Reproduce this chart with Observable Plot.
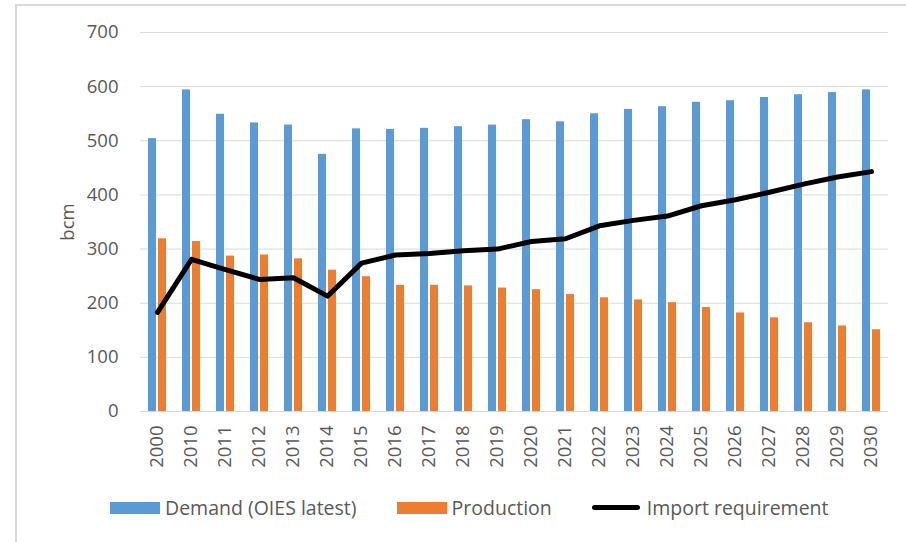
<!DOCTYPE html>
<html>
<head>
<meta charset="utf-8">
<script src="https://cdn.jsdelivr.net/npm/d3@7"></script>
<script src="https://cdn.jsdelivr.net/npm/@observablehq/plot@0.6"></script>
<style>
  html, body { margin: 0; padding: 0; background: #fff; }
  body { width: 906px; height: 542px; position: relative; overflow: hidden; font-family: "Open Sans", sans-serif; }
  #frame { position: absolute; left: 15px; top: 4px; width: 900px; height: 560px; border-left: 2px solid #d9d9d9; border-top: 2px solid #d9d9d9; box-sizing: border-box; }
  #chart { position: absolute; left: 0; top: 0; }
  #legend { position: absolute; left: 110px; top: 494px; display: flex; align-items: center; gap: 40px; font-size: 19.5px; color: #595959; }
  .item { display: flex; align-items: center; gap: 5px; }
  .sw { width: 50px; height: 12px; }
  .ln { width: 48px; height: 5px; background: #000; border-radius: 3px; margin-right: 2px; }
</style>
</head>
<body>
<div id="frame"></div>
<div id="chart"></div>
<div id="legend"></div>
<script>
const years = ["2000","2010","2011","2012","2013","2014","2015","2016","2017","2018","2019","2020","2021","2022","2023","2024","2025","2026","2027","2028","2029","2030"];
const demand = [504,594,549,533,529,475,522,521,523,526,529,539,535,550,558,563,571,574,580,585,589,594];
const production = [319,314,287,289,282,261,249,233,233,232,228,225,216,210,206,201,192,182,173,164,158,151];
const importReq = [183,281,262,244,247,213,274,289,292,297,300,314,319,343,353,361,380,391,405,420,433,443];
const yTicks = [0,100,200,300,400,500,600,700];
const seriesNames = ["Demand (OIES latest)", "Production", "Import requirement"];
const colors = ["#5B9BD5", "#ED7D31", "#000000"];

const rows = years.map((y, i) => ({year: y, demand: demand[i], production: production[i], imports: importReq[i]}));

const chart = Plot.plot({
  width: 906,
  height: 480,
  marginLeft: 140,
  marginRight: 18,
  marginTop: 32,
  marginBottom: 69,
  style: {fontFamily: "'Open Sans', sans-serif", fontSize: "18.5px", color: "#595959", background: "transparent", overflow: "visible"},
  x: {domain: years, padding: 0, align: 0.5},
  y: {domain: [0, 700]},
  marks: [
    Plot.gridY(yTicks, {stroke: "#d9d9d9", strokeOpacity: 1, strokeWidth: 1}),
    Plot.barY(rows, {x: "year", y: "demand", fill: colors[0], insetLeft: 8, insetRight: 18}),
    Plot.barY(rows, {x: "year", y: "production", fill: colors[1], insetLeft: 18, insetRight: 8}),
    Plot.ruleY([0], {stroke: "#d9d9d9", strokeWidth: 1}),
    Plot.lineY(rows, {x: "year", y: "imports", stroke: colors[2], strokeWidth: 5, strokeLinejoin: "round", strokeLinecap: "round"}),
    Plot.axisY(yTicks, {tickSize: 0, tickPadding: 22, fontSize: 18.5, label: "bcm", labelAnchor: "center", labelArrow: "none", labelOffset: 80}),
    Plot.axisX({tickSize: 0, tickRotate: -90, tickPadding: 14, fontSize: 18.5, label: null})
  ]
});
document.getElementById("chart").appendChild(chart);

const legend = document.getElementById("legend");
seriesNames.forEach((name, i) => {
  const item = document.createElement("div");
  item.className = "item";
  const sw = document.createElement("div");
  if (i < 2) { sw.className = "sw"; sw.style.background = colors[i]; }
  else { sw.className = "ln"; }
  const t = document.createElement("span");
  t.textContent = name;
  item.appendChild(sw);
  item.appendChild(t);
  legend.appendChild(item);
});
</script>
</body>
</html>
